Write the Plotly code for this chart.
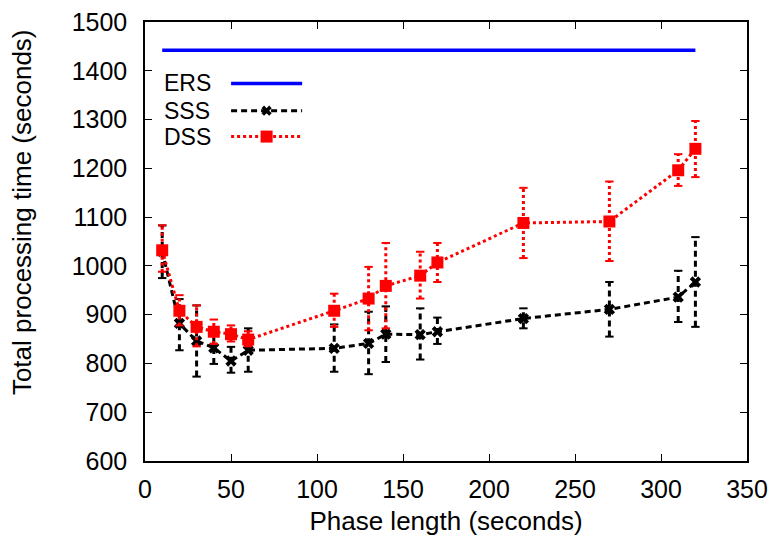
import plotly.graph_objects as go

# ---- data ----
phase = [10, 20, 30, 40, 50, 60, 110, 130, 140, 160, 170, 220, 270, 310, 320]
ers_x = [10, 320]
ers_y = [1442, 1442]

sss_y = [1030, 882, 846, 832, 805, 827, 831, 841, 860, 859, 865, 892, 911, 936, 967]
sss_lo = [975, 827, 773, 799, 781, 783, 783, 778, 803, 808, 840, 872, 855, 885, 875]
sss_hi = [1083, 932, 919, 865, 834, 872, 880, 906, 917, 913, 894, 913, 967, 990, 1059]

dss_y = [1032, 908, 875, 865, 860, 849, 908, 933, 959, 980, 1007, 1088, 1091, 1196, 1240]
dss_lo = [988, 878, 835, 840, 845, 835, 875, 868, 872, 933, 967, 1016, 1010, 1164, 1182]
dss_hi = [1083, 940, 919, 890, 878, 866, 943, 998, 1047, 1029, 1047, 1160, 1173, 1229, 1297]

series_names = ["ERS", "SSS", "DSS"]
x_title = "Phase length (seconds)"
y_title = "Total processing time (seconds)"

BLUE = "#0000ff"
BLACK = "#000000"
RED = "#ff0000"
FONT = "Liberation Sans, Arial, sans-serif"


def seg(xs, lo, hi):
    sx, sy = [], []
    for x, a, b in zip(xs, lo, hi):
        sx += [x, x, None]
        sy += [a, b, None]
    return sx, sy


fig = go.Figure()

# ERS
fig.add_trace(go.Scatter(x=ers_x, y=ers_y, mode="lines",
                         line=dict(color=BLUE, width=3.5), showlegend=False))

# SSS error bars
ex, ey = seg(phase, sss_lo, sss_hi)
fig.add_trace(go.Scatter(x=ex, y=ey, mode="lines",
                         line=dict(color=BLACK, width=3, dash="6px,4px"),
                         showlegend=False, hoverinfo="skip"))
fig.add_trace(go.Scatter(x=phase + phase, y=sss_lo + sss_hi, mode="markers",
                         marker=dict(symbol="line-ew", size=6, line=dict(color=BLACK, width=2)),
                         showlegend=False, hoverinfo="skip"))
# SSS line
fig.add_trace(go.Scatter(x=phase, y=sss_y, mode="lines+markers",
                         line=dict(color=BLACK, width=3, dash="6px,4px"),
                         marker=dict(symbol="x", size=10, color=BLACK),
                         showlegend=False))

# DSS error bars
ex, ey = seg(phase, dss_lo, dss_hi)
fig.add_trace(go.Scatter(x=ex, y=ey, mode="lines",
                         line=dict(color=RED, width=3, dash="dot"),
                         showlegend=False, hoverinfo="skip"))
fig.add_trace(go.Scatter(x=phase + phase, y=dss_lo + dss_hi, mode="markers",
                         marker=dict(symbol="line-ew", size=6, line=dict(color=RED, width=2)),
                         showlegend=False, hoverinfo="skip"))
# DSS line
fig.add_trace(go.Scatter(x=phase, y=dss_y, mode="lines+markers",
                         line=dict(color=RED, width=3, dash="dot"),
                         marker=dict(symbol="square", size=12, color=RED),
                         showlegend=False))

# ---- manual key (text left of sample, gnuplot style), on a hidden 0..1 overlay axis ----
key_rows = [0.860, 0.798, 0.739]
key_text_x = 0.029
key_x0, key_x1 = 0.143, 0.261
key_mid = (key_x0 + key_x1) / 2
key_styles = [
    dict(line=dict(color=BLUE, width=3.5), mode="lines", marker=None),
    dict(line=dict(color=BLACK, width=3, dash="6px,4px"), mode="lines",
         marker=dict(symbol="x", size=9, color=BLACK)),
    dict(line=dict(color=RED, width=3, dash="dot"), mode="lines",
         marker=dict(symbol="square", size=12, color=RED)),
]
for name, yk, st in zip(series_names, key_rows, key_styles):
    fig.add_trace(go.Scatter(x=[key_x0, key_x1], y=[yk, yk], mode="lines",
                             line=st["line"], xaxis="x2", yaxis="y2",
                             showlegend=False, hoverinfo="skip"))
    if st["marker"] is not None:
        fig.add_trace(go.Scatter(x=[key_mid], y=[yk], mode="markers",
                                 marker=st["marker"], xaxis="x2", yaxis="y2",
                                 showlegend=False, hoverinfo="skip"))
    fig.add_annotation(x=key_text_x, y=yk, xref="paper", yref="paper",
                       text=name, showarrow=False, xanchor="left", yanchor="middle",
                       font=dict(family=FONT, size=23, color="black"))

# y axis title as a free annotation (gnuplot places it slightly above the plot centre)
fig.add_annotation(x=22, y=0.567, xref="paper", yref="paper", text=y_title,
                   textangle=-90, showarrow=False, xanchor="center", yanchor="middle",
                   font=dict(family=FONT, size=26, color="black"))
fig.layout.annotations[-1].update(xref="x domain")
fig.layout.annotations[-1].update(x=(22 - 145) / 602)

axis_common = dict(showgrid=False, zeroline=False, showline=True, linecolor="black",
                   linewidth=1.5, mirror="ticks", ticks="inside", ticklen=7,
                   tickcolor="black", tickwidth=1,
                   tickfont=dict(family=FONT, size=25, color="black"))

fig.update_layout(
    width=774, height=540,
    margin=dict(l=145, r=27, t=22, b=79),
    paper_bgcolor="white", plot_bgcolor="white",
    showlegend=False,
    xaxis=dict(range=[0, 350], dtick=50, tick0=0, automargin=False,
               title=dict(text=x_title, standoff=10,
                          font=dict(family=FONT, size=26, color="black")),
               ticklabelstandoff=5, **axis_common),
    yaxis=dict(range=[600, 1500], dtick=100, tick0=600, automargin=False,
               ticklabelstandoff=11, **axis_common),
    xaxis2=dict(range=[0, 1], overlaying="x", visible=False, fixedrange=True),
    yaxis2=dict(range=[0, 1], overlaying="y", visible=False, fixedrange=True),
)

fig.write_html("out.html")
